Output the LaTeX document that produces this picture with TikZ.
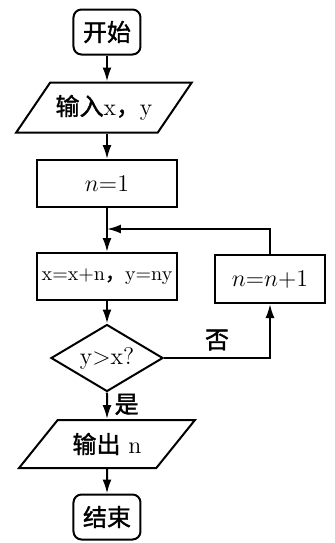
\documentclass[tikz,border=0pt]{standalone}
\usepackage{fontspec}
\usepackage{tikz}
\usetikzlibrary{shapes.geometric,arrows.meta}
\newfontfamily\cjk[FakeBold=1.5]{Noto Sans CJK SC}

\tikzset{
  base/.style={draw, line width=1pt, inner sep=2pt, font=\large},
  term/.style={base, rounded corners=4pt, minimum width=33.5pt, minimum height=22.5pt},
  io/.style={base, trapezium, trapezium left angle=45, trapezium right angle=135, trapezium stretches=true, minimum width=88.5pt, minimum height=25pt},
  proc/.style={base, rectangle, minimum width=70pt, minimum height=23.5pt},
  test/.style={base, diamond, aspect=1.7, minimum width=56pt, minimum height=33.5pt, inner sep=0pt},
  arr/.style={line width=1pt, -{Latex[length=7pt,width=4.5pt]}}
}

\begin{document}
\begin{tikzpicture}[x=0.5pt, y=-0.5pt]
\useasboundingbox (0,0) rectangle (335,543);
\node [term] (start) at (107,32) {\cjk 开始};
\node [io] (in) at (104,107.5) {{\cjk 输入}x{\cjk ，}y};
\node [proc] (init) at (107,183.5) {$n$=1};
\node [proc, font=\normalsize, inner sep=1pt] (upd) at (107,276.5) {x=x+n{\cjk ，}y=ny};
\node [proc, minimum width=55pt, minimum height=24pt] (inc) at (270,279) {$n$=$n$+1};
\node [test] (cond) at (107,358) {y>x?};
\node [io, minimum height=24pt] (out) at (107,444) {{\cjk 输出} n};
\node [term] (stop) at (107,517) {\cjk 结束};
\coordinate (join) at (107,229);

\draw [arr] (start) -- (start |- in.north);
\draw [arr] (start |- in.south) -- (init);
\draw [arr] (init) -- (upd);
\draw [arr] (inc.north) |- (join);
\draw [arr] (upd) -- (cond);
\draw [arr] (cond.east) -| node [pos=0.25, above, font=\large] {\cjk 否} (inc.south);
\draw [arr] (cond.south) -- node [right, pos=0.45, font=\large] {\cjk 是} (out);
\draw [arr] (out) -- (stop);
\end{tikzpicture}
\end{document}
